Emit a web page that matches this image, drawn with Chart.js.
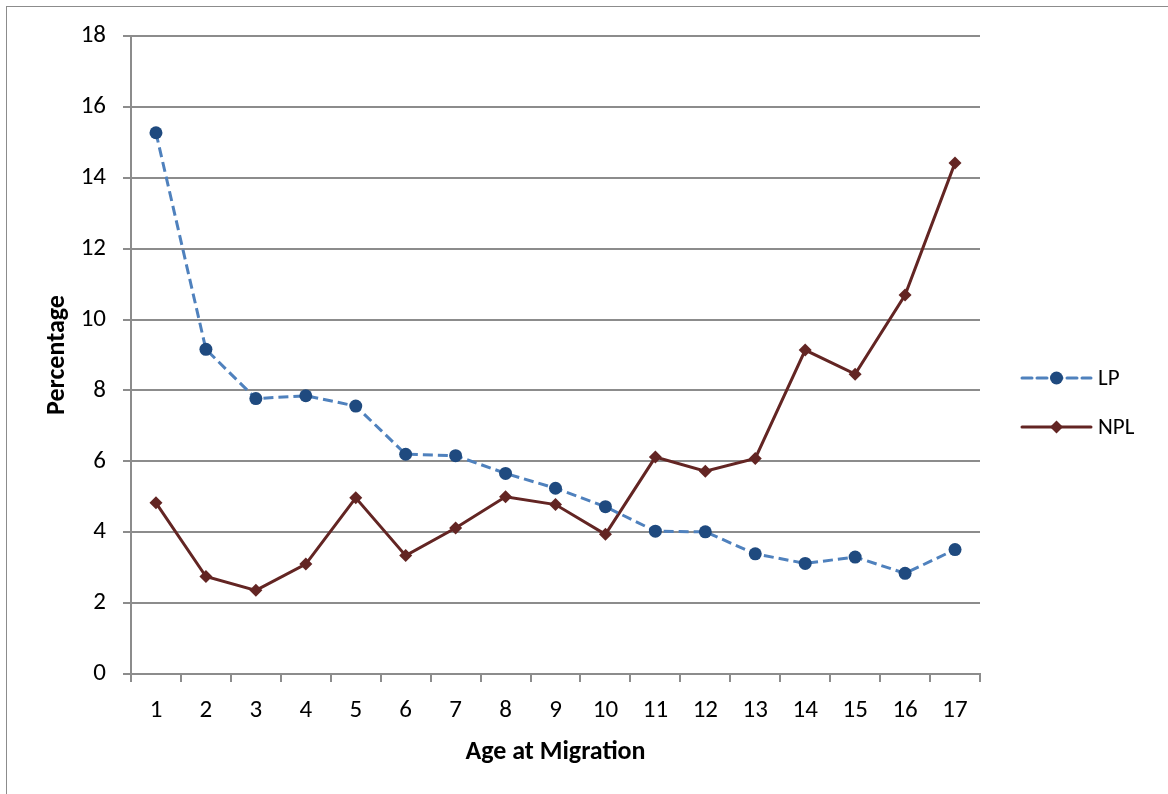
<!DOCTYPE html>
<html>
<head>
<meta charset="utf-8">
<script src="https://cdn.jsdelivr.net/npm/chart.js@4/dist/chart.umd.min.js"></script>
<style>
  html, body { margin: 0; padding: 0; background: #ffffff; }
  #wrap { position: relative; width: 1168px; height: 794px; overflow: hidden; }
  #frame { position: absolute; left: 6px; top: 6px; width: 1200px; height: 820px; border: 1px solid #8c8c8c; box-sizing: border-box; }
  canvas { position: absolute; left: 0; top: 0; }
</style>
</head>
<body>
<div id="wrap">
  <div id="frame"></div>
  <canvas id="chart" width="1168" height="794"></canvas>
</div>
<script>
// Age at migration (years) on the x axis
const ages = ['1','2','3','4','5','6','7','8','9','10','11','12','13','14','15','16','17'];

// Percentage for each group
const lpValues  = [15.27, 9.16, 7.77, 7.85, 7.56, 6.20, 6.16, 5.66, 5.24, 4.72, 4.03, 4.01, 3.39, 3.12, 3.30, 2.84, 3.51];
const nplValues = [4.83, 2.75, 2.36, 3.10, 4.97, 3.34, 4.12, 5.00, 4.78, 3.94, 6.12, 5.72, 6.08, 9.14, 8.46, 10.69, 14.42];

const seriesNames = ['LP', 'NPL'];
const yTicks = { min: 0, max: 18, step: 2 };

const FONT = "Carlito, Lato, 'Liberation Sans', sans-serif";
const GRID = '#8c8c8c';
const LP_LINE = '#4f81bd', LP_MARK = '#1f4a7f';
const NPL_LINE = '#632523';

// Legend drawn to the right of the plot: line sample with marker, then the name
const sideLegend = {
  id: 'sideLegend',
  afterDraw(chart) {
    const { ctx, chartArea } = chart;
    const x0 = chartArea.right + 42, x1 = chartArea.right + 111, xm = (x0 + x1) / 2;
    const rows = [
      { name: seriesNames[0], y: chartArea.top + 342, color: LP_LINE, mark: LP_MARK, dash: [10, 5], shape: 'circle' },
      { name: seriesNames[1], y: chartArea.top + 391, color: NPL_LINE, mark: NPL_LINE, dash: [], shape: 'diamond' }
    ];
    ctx.save();
    rows.forEach(r => {
      ctx.strokeStyle = r.color;
      ctx.lineWidth = 3;
      ctx.lineCap = 'round';
      ctx.setLineDash(r.dash);
      ctx.beginPath();
      ctx.moveTo(x0, r.y);
      ctx.lineTo(x1, r.y);
      ctx.stroke();
      ctx.setLineDash([]);
      ctx.fillStyle = r.mark;
      ctx.beginPath();
      if (r.shape === 'circle') {
        ctx.arc(xm, r.y, 6.5, 0, Math.PI * 2);
      } else {
        ctx.moveTo(xm, r.y - 6.5); ctx.lineTo(xm + 6.5, r.y); ctx.lineTo(xm, r.y + 6.5); ctx.lineTo(xm - 6.5, r.y);
        ctx.closePath();
      }
      ctx.fill();
      ctx.fillStyle = '#000';
      ctx.font = '23px ' + FONT;
      ctx.textAlign = 'left';
      ctx.textBaseline = 'middle';
      ctx.fillText(r.name, x1 + 7, r.y + 1);
    });
    ctx.restore();
  }
};

new Chart(document.getElementById('chart'), {
  type: 'line',
  data: {
    labels: ages,
    datasets: [
      {
        label: seriesNames[0],
        data: lpValues,
        borderColor: LP_LINE,
        borderWidth: 3,
        borderDash: [10, 5],
        pointStyle: 'circle',
        pointRadius: 6.5,
        pointBackgroundColor: LP_MARK,
        pointBorderColor: LP_MARK,
        pointBorderWidth: 0,
        tension: 0
      },
      {
        label: seriesNames[1],
        data: nplValues,
        borderColor: NPL_LINE,
        borderWidth: 3,
        pointStyle: 'rectRot',
        pointRadius: 6.5,
        pointBackgroundColor: NPL_LINE,
        pointBorderColor: NPL_LINE,
        pointBorderWidth: 0,
        tension: 0
      }
    ]
  },
  options: {
    responsive: false,
    animation: false,
    devicePixelRatio: 1,
    layout: { padding: { left: 0, top: 36, right: 188, bottom: 0 } },
    plugins: { legend: { display: false }, tooltip: { enabled: false } },
    scales: {
      x: {
        offset: true,
        grid: { offset: true, drawOnChartArea: false, drawTicks: true, tickLength: 8, color: GRID, lineWidth: 2 },
        border: { display: true, color: GRID, width: 2 },
        ticks: { color: '#000', font: { family: FONT, size: 25 }, padding: 14, maxRotation: 0, autoSkip: false },
        title: { display: true, text: 'Age at Migration', color: '#000', font: { family: FONT, size: 26, weight: 'bold' }, padding: { top: 0, bottom: 26 } },
        afterFit(scale) { scale.height = 120; }
      },
      y: {
        min: yTicks.min,
        max: yTicks.max,
        ticks: { stepSize: yTicks.step, color: '#000', font: { family: FONT, size: 25 }, padding: 17 },
        grid: { color: GRID, lineWidth: 2, tickLength: 8 },
        border: { display: true, color: GRID, width: 2 },
        title: { display: true, text: 'Percentage', color: '#000', font: { family: FONT, size: 26, weight: 'bold' }, padding: { top: 42, bottom: 0 } },
        afterFit(scale) { scale.width = 131; }
      }
    }
  },
  plugins: [sideLegend]
});
</script>
</body>
</html>
